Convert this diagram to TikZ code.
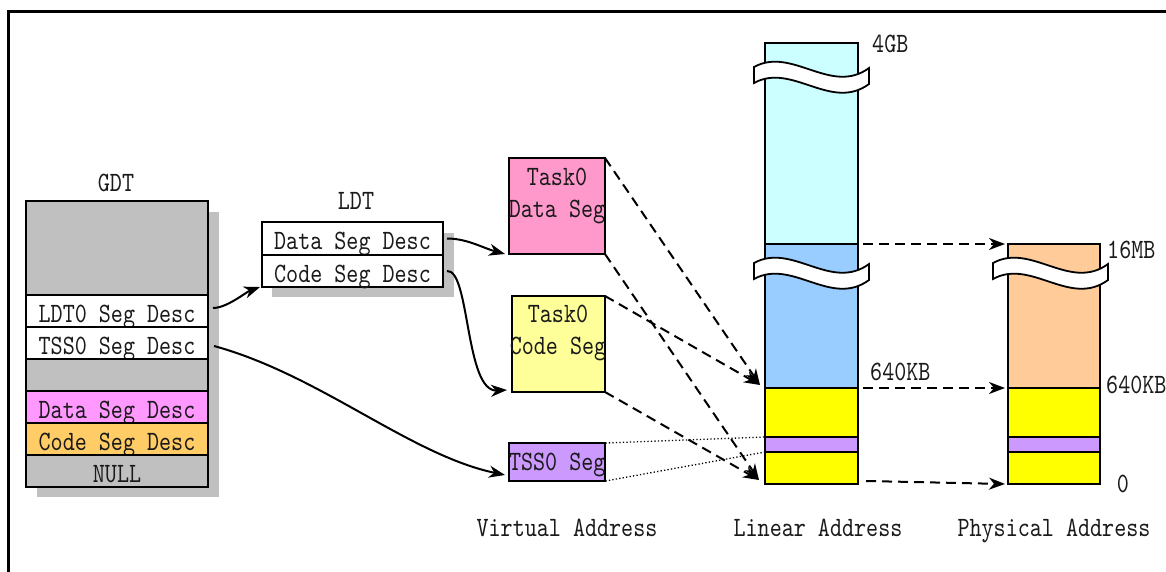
\documentclass[tikz,border=0pt]{standalone}
\usepackage{fontspec}
\usetikzlibrary{arrows.meta}
\newfontfamily\lblfont{lmmono10-regular.otf}[FakeStretch=0.82]
\definecolor{shgrey}{HTML}{C0C0C0}
\definecolor{gmag}{HTML}{FF99FF}
\definecolor{gorange}{HTML}{FFCC66}
\definecolor{tpink}{HTML}{FF99CC}
\definecolor{tyellow}{HTML}{FFFF99}
\definecolor{tpurple}{HTML}{CC99FF}
\definecolor{lcyan}{HTML}{CCFFFF}
\definecolor{lblue}{HTML}{99CCFF}
\definecolor{myyellow}{HTML}{FFFF00}
\definecolor{ppeach}{HTML}{FFCC99}
\definecolor{txtcol}{HTML}{1A1A1A}
\newcommand{\lbl}{\lblfont\fontsize{28}{32}\selectfont}
\newcommand{\brkband}[2]{%
  \draw[wavebrk] (#1,#2) .. controls +(38,-21) and +(-38,28) .. ({#1+115},{#2+1})
    -- ({#1+115},{#2+17}) .. controls +(-38,28) and +(38,-21) .. ({#1},{#2+16}) -- cycle;}
\tikzset{
  box/.style={draw, line width=2pt, inner sep=0pt, outer sep=0pt, font=\lbl, text=txtcol, anchor=north west},
  rowtext/.style={text height=22pt, text depth=0pt},
  txt/.style={font=\lbl, text=txtcol, inner sep=0pt},
  conn/.style={line width=2pt, -{Stealth[length=16pt,width=12pt,inset=5pt]}},
  dconn/.style={conn, dash pattern=on 10pt off 6pt},
  dotline/.style={line width=1.3pt, dash pattern=on 1.3pt off 2.2pt},
  shadowbox/.style={fill=shgrey, draw=none},
  wavebrk/.style={fill=white, draw, line width=1.8pt},
}
\begin{document}
\begin{tikzpicture}[x=1pt,y=-1pt]
\useasboundingbox (0,0) rectangle (1166,572);
% frame
\draw[line width=3pt] (8,572) -- (8,12) -- (1166,12);

% GDT
\fill[shadowbox] (37,212) rectangle (219,497);
\node[txt, anchor=base] (gdtlabel) at (116,192) {GDT};
\node[box, fill=shgrey, minimum width=182pt, minimum height=94pt] (gtop) at (26,201) {};
\node[box, rowtext, fill=white, minimum width=182pt, minimum height=32pt] (gldt) at (26,295) {LDT0 Seg Desc};
\node[box, rowtext, fill=white, minimum width=182pt, minimum height=32pt] (gtss) at (26,327) {TSS0 Seg Desc};
\node[box, fill=shgrey, minimum width=182pt, minimum height=32pt] (ggap) at (26,359) {};
\node[box, rowtext, fill=gmag, minimum width=182pt, minimum height=32pt] (gdata) at (26,391) {Data Seg Desc};
\node[box, rowtext, fill=gorange, minimum width=182pt, minimum height=32pt] (gcode) at (26,423) {Code Seg Desc};
\node[box, rowtext, fill=shgrey, minimum width=182pt, minimum height=32pt] (gnull) at (26,455) {NULL};

% LDT
\fill[shadowbox] (272,233) rectangle (454,297);
\node[txt, anchor=base] (ldtlabel) at (356,209) {LDT};
\node[box, rowtext, fill=white, minimum width=181pt, minimum height=33pt] (ldtdata) at (262,222) {Data Seg Desc};
\node[box, rowtext, fill=white, minimum width=181pt, minimum height=32pt] (ldtcode) at (262,255) {Code Seg Desc};

% task segments
\node[box, fill=tpink, minimum width=96pt, minimum height=96pt] (dataseg) at (509,158) {};
\node[txt, align=center] (datatxt) at (557,196) {Task0\\Data Seg};
\node[box, fill=tyellow, minimum width=93pt, minimum height=96pt] (codeseg) at (512,296) {};
\node[txt, align=center] (codetxt) at (558,333) {Task0\\Code Seg};
\node[box, fill=tpurple, text height=16pt, text depth=0pt, minimum width=96pt, minimum height=38pt] (tssseg) at (509,443) {TSS0 Seg};

% linear address column
\node[box, fill=lcyan, minimum width=93pt, minimum height=201pt] (lin1) at (765,43) {};
\node[box, fill=lblue, minimum width=93pt, minimum height=144pt] (lin2) at (765,244) {};
\node[box, fill=myyellow, minimum width=93pt, minimum height=49pt] (lin3) at (765,388) {};
\node[box, fill=tpurple, minimum width=93pt, minimum height=15pt] (lin4) at (765,437) {};
\node[box, fill=myyellow, minimum width=93pt, minimum height=32pt] (lin5) at (765,452) {};

% physical address column
\node[box, fill=ppeach, minimum width=92pt, minimum height=144pt] (phy2) at (1008,244) {};
\node[box, fill=myyellow, minimum width=92pt, minimum height=49pt] (phy3) at (1008,388) {};
\node[box, fill=tpurple, minimum width=92pt, minimum height=15pt] (phy4) at (1008,437) {};
\node[box, fill=myyellow, minimum width=92pt, minimum height=32pt] (phy5) at (1008,452) {};

% breaks
\brkband{754}{67}
\brkband{754}{263}
\brkband{993}{263}

% value labels
\node[txt, anchor=base west] (l4gb) at (872,53) {4GB};
\node[txt, anchor=base west] (l16mb) at (1107,258) {16MB};
\node[txt, anchor=base west] (l640a) at (870,380) {640KB};
\node[txt, anchor=base west] (l640b) at (1106,393) {640KB};
\node[txt, anchor=base] (lzero) at (1123,492) {0};

% axis captions
\node[txt, anchor=base] (virt) at (567,536) {Virtual Address};
\node[txt, anchor=base] (linr) at (818,536) {Linear Address};
\node[txt, anchor=base] (phys) at (1054,536) {Physical Address};

% solid connectors
\draw[conn] ([xshift=5pt,yshift=3pt]gldt.east) .. controls +(14,0) and +(-14,5) .. ([xshift=-2pt]ldtcode.south west);
\draw[conn] ([xshift=6pt,yshift=-3pt]gtss.east) .. controls +(106,29) and +(-95,-20) .. ([xshift=-4pt,yshift=6pt]tssseg.south west);
\draw[conn] ([xshift=4pt]ldtdata.east) .. controls +(20,0) and +(-22,-6) .. ([xshift=-4pt]dataseg.south west);
\draw[conn] ([xshift=4pt]ldtcode.east) .. controls +(23,-2) and +(-42,2) .. ([xshift=-5pt,yshift=2pt]codeseg.south west);

% dashed mappings
\draw[dconn] (dataseg.north east) -- ([xshift=-5pt,yshift=3pt]lin2.south west);
\draw[dconn] (dataseg.south east) -- ([xshift=-6pt,yshift=4pt]lin5.south west);
\draw[dconn] (codeseg.north east) -- ([xshift=-5pt,yshift=3pt]lin2.south west);
\draw[dconn] (codeseg.south east) -- ([xshift=-6pt,yshift=4pt]lin5.south west);

% dotted
\draw[dotline] (tssseg.north east) -- (lin4.north west);
\draw[dotline] (tssseg.south east) -- (lin4.south west);

% linear -> physical
\draw[dconn] ([xshift=5pt]lin2.north east) -- ([xshift=-3pt]phy2.north west);
\draw[dconn] ([xshift=5pt]lin3.north east) -- ([xshift=-3pt]phy3.north west);
\draw[dconn] ([xshift=8pt,yshift=3pt]lin5.south east) -- ([xshift=-3pt]phy5.south west);
\end{tikzpicture}
\end{document}
